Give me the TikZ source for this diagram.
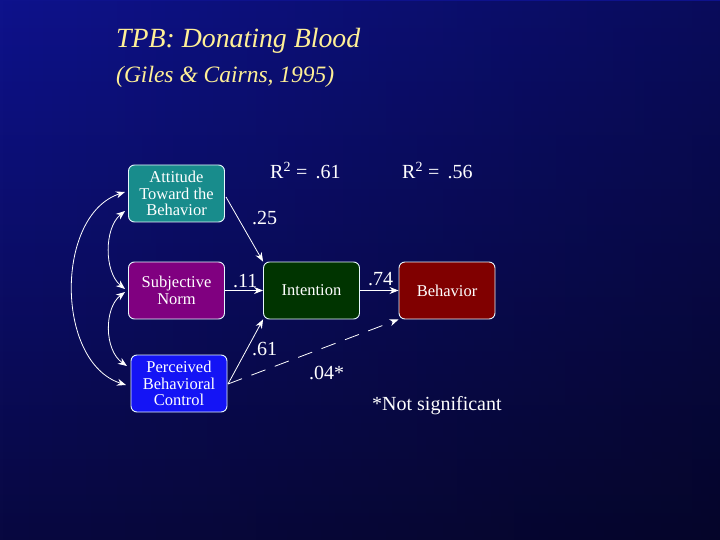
\documentclass[tikz,border=0pt]{standalone}
\usepackage{fontspec}
\setmainfont{Liberation Serif}
\usetikzlibrary{arrows.meta,fadings}
\definecolor{bgtop}{RGB}{14,18,140}
\definecolor{bgbot}{RGB}{8,8,64}
\definecolor{titlecol}{RGB}{255,240,150}
\definecolor{teal1}{RGB}{24,140,140}
\definecolor{purp1}{RGB}{128,0,128}
\definecolor{blue1}{RGB}{20,20,245}
\definecolor{green1}{RGB}{0,52,0}
\definecolor{red1}{RGB}{128,0,0}
\tikzset{
  box/.style={draw=white!90!cyan, line width=0.9pt, rounded corners=6pt, minimum width=96pt, minimum height=57pt, inner sep=0pt, text=white, align=center, font=\fontsize{16.5}{16.5}\selectfont},
  lbl/.style={text=white, font=\fontsize{20}{21}\selectfont, inner sep=0pt},
  arr/.style={draw=white, line width=0.8pt, -{Stealth[length=9pt,width=7pt]}},
  darr/.style={draw=white, line width=0.8pt, {Stealth[length=9pt,width=7pt]}-{Stealth[length=9pt,width=7pt]}},
}
\begin{document}
\begin{tikzpicture}[x=1pt,y=-1pt]
\useasboundingbox (0,0) rectangle (720,540);
\shade[top color=bgtop, bottom color=bgbot] (0,0) rectangle (720,540);
\fill[black, path fading=west, fill opacity=0.35] (0,0) rectangle (720,540);
% titles
\node[anchor=base west, text=titlecol, font=\fontsize{27.8}{30}\selectfont\itshape, inner sep=0pt] (title) at (116,48) {TPB: Donating Blood};
\node[anchor=base west, text=titlecol, font=\fontsize{23.5}{26}\selectfont\itshape, inner sep=0pt] (sub) at (116,83) {(Giles \& Cairns, 1995)};
% boxes
\node[box, fill=teal1] (att) at (176.5,193.5) {Attitude\\Toward the\\Behavior};
\node[box, fill=purp1] (sn) at (176.5,290.5) {Subjective\\Norm};
\node[box, fill=blue1] (pbc) at (179,383.5) {Perceived\\Behavioral\\Control};
\node[box, fill=green1] (int) at (311.5,290.5) {Intention};
\node[box, fill=red1] (beh) at (447,290.5) {Behavior};
% labels
\node[lbl, anchor=base west] (r1) at (270,179) {R\textsuperscript{2} =\, .61};
\node[lbl, anchor=base west] (r2) at (402,179) {R\textsuperscript{2} =\, .56};
\node[lbl, anchor=base west] (l25) at (252,225) {.25};
\node[lbl, anchor=base west] (l11) at (233,287) {.11};
\node[lbl, anchor=base west] (l74) at (368,285) {.74};
\node[lbl, anchor=base west] (l61) at (252,355) {.61};
\node[lbl, anchor=base west] (l04) at (309,379) {.04*};
\node[lbl, anchor=base west] (ns) at (372,410) {*Not significant};
% connectors
\coordinate (attR) at (226,197);
\coordinate (pbcR) at (228,384);
\draw[arr] (attR) -- (int.north west);
\draw[arr] (sn.east) -- (int.west);
\draw[arr] (pbcR) -- (int.south west);
\draw[arr] (int.east) -- (beh.west);
\draw[arr, dash pattern=on 15pt off 10pt] (pbcR) -- (beh.south west);
% correlations
\coordinate (o1) at (125,192);
\coordinate (o2) at (126,385);
\coordinate (a1) at (125,211);
\coordinate (a2) at (125,289);
\coordinate (b1) at (125,292);
\coordinate (b2) at (127,366);
\draw[darr] (o1) .. controls (55,215) and (55,362) .. (o2);
\draw[darr] (a1) .. controls (104,228) and (104,272) .. (a2);
\draw[darr] (b1) .. controls (104,308) and (104,350) .. (b2);
\end{tikzpicture}
\end{document}
